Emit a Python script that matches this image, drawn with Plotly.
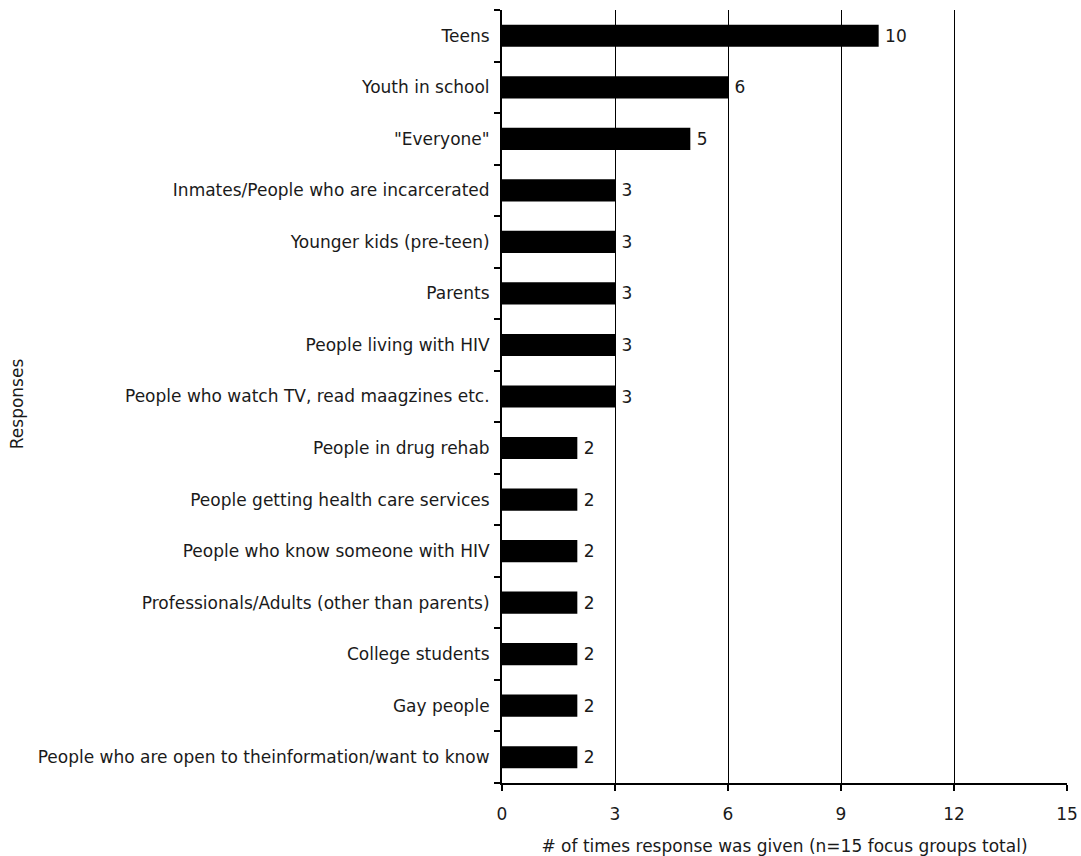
import plotly.graph_objects as go

categories = [
    "Teens",
    "Youth in school",
    "\"Everyone\"",
    "Inmates/People who are incarcerated",
    "Younger kids (pre-teen)",
    "Parents",
    "People living with HIV",
    "People who watch TV, read maagzines etc.",
    "People in drug rehab",
    "People getting health care services",
    "People who know someone with HIV",
    "Professionals/Adults (other than parents)",
    "College students",
    "Gay people",
    "People who are open to theinformation/want to know",
]
counts = [10, 6, 5, 3, 3, 3, 3, 3, 2, 2, 2, 2, 2, 2, 2]
x_ticks = [0, 3, 6, 9, 12, 15]

FONT = "DejaVu Sans"
SIZE = 17
TEXT_COLOR = "#1a1a1a"

W, H = 1081, 856
ML, MR, MT, MB = 502, 14, 10, 73
plot_w = W - ML - MR

fig = go.Figure(
    go.Bar(
        y=categories,
        x=counts,
        orientation="h",
        marker=dict(color="black", line=dict(width=0)),
        texttemplate="\u2009%{x}",
        textposition="outside",
        textfont=dict(family=FONT, size=SIZE, color=TEXT_COLOR),
        cliponaxis=False,
    )
)

fig.update_layout(
    width=W,
    height=H,
    margin=dict(l=ML, r=MR, t=MT, b=MB, autoexpand=False),
    paper_bgcolor="white",
    plot_bgcolor="white",
    font=dict(family=FONT, size=SIZE, color=TEXT_COLOR),
    bargap=0.57,
    showlegend=False,
)

fig.update_xaxes(
    range=[0, 15],
    tickvals=x_ticks,
    ticktext=[str(v) for v in x_ticks],
    showgrid=True,
    gridcolor="black",
    gridwidth=1,
    showline=True,
    linecolor="black",
    linewidth=2,
    ticks="outside",
    ticklen=6,
    tickwidth=2,
    tickcolor="black",
    ticklabelstandoff=9,
    zeroline=False,
    automargin=False,
    title=dict(text="# of times response was given (n=15 focus groups total)",
               font=dict(family=FONT, size=SIZE), standoff=17),
)

fig.update_yaxes(
    categoryorder="array",
    categoryarray=categories[::-1],
    showline=True,
    linecolor="black",
    linewidth=2,
    ticks="outside",
    tickson="boundaries",
    ticklen=6,
    tickwidth=2,
    tickcolor="black",
    ticklabelstandoff=7,
    showgrid=False,
    automargin=False,
)

# Vertical axis title, placed near the left edge of the page
fig.add_annotation(
    text="Responses",
    textangle=-90,
    xref="paper", yref="paper",
    x=(17 - ML) / plot_w, y=0.49,
    xanchor="center", yanchor="middle",
    showarrow=False,
    font=dict(family=FONT, size=SIZE, color=TEXT_COLOR),
)

fig.write_html("out.html")
